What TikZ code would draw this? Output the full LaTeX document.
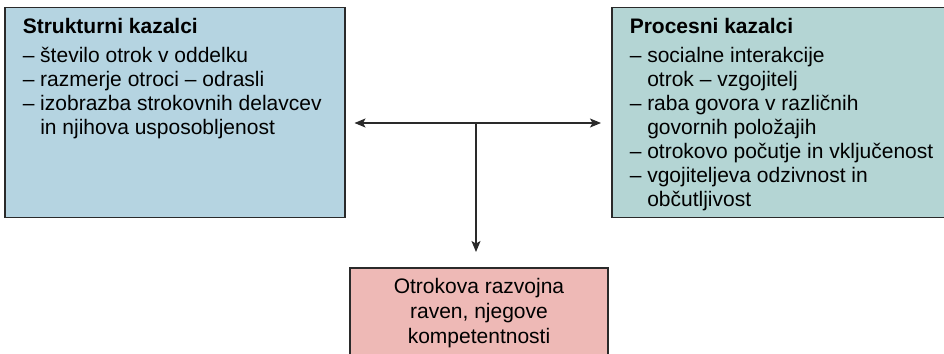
\documentclass[tikz,border=0pt]{standalone}
\usepackage{fontspec}
\setmainfont{Liberation Sans}
\usetikzlibrary{arrows.meta}

\definecolor{strukblue}{HTML}{B5D4E1}
\definecolor{procteal}{HTML}{B4D5D4}
\definecolor{razvojred}{HTML}{EEB9B6}
\definecolor{framegray}{HTML}{2A2A2A}

\tikzset{
  kazbox/.style={draw=framegray, line width=1.5pt, anchor=north west,
    inner xsep=18pt, inner ysep=11pt, font=\fontsize{21}{24}\selectfont},
  link/.style={draw=framegray, line width=1.2pt},
  >={Stealth[length=11pt, width=9pt, inset=2.5pt]}
}
% top aligned text block of fixed size
\newcommand{\kaztext}[3]{\parbox[c][#2][t]{#1}{\raggedright #3}}

\begin{document}
\begin{tikzpicture}[x=1pt, y=-1pt]
    \clip (0,0) rectangle (944,353);
    % Strukturni kazalci box
    \node[kazbox, fill=strukblue] (struk) at (4,7) {\kaztext{304pt}{187.5pt}{%
      \textbf{Strukturni kazalci}\\[5pt]
      – število otrok v oddelku\\
      – razmerje otroci – odrasli\\
      – izobrazba strokovnih delavcev\\
      \hphantom{– }in njihova usposobljenost}};
    % Procesni kazalci box
    \node[kazbox, fill=procteal] (proces) at (611,7) {\kaztext{320pt}{187.5pt}{%
      \textbf{Procesni kazalci}\\[5pt]
      – socialne interakcije\\
      \hphantom{– }otrok – vzgojitelj\\
      – raba govora v različnih\\
      \hphantom{– }govornih položajih\\
      – otrokovo počutje in vključenost\\
      – vgojiteljeva odzivnost in\\
      \hphantom{– }občutljivost}};
    % Razvojna raven box
    \node[draw=framegray, line width=1.5pt, fill=razvojred, anchor=north,
      minimum width=258pt, minimum height=90pt, align=center,
      font=\fontsize{21}{25}\selectfont] (razvoj) at (479,267)
      {Otrokova razvojna\\raven, njegove\\kompetentnosti};
    % Arrows
    \coordinate (junction) at (476,123);
    \draw[link, <->, shorten <=9pt, shorten >=10pt]
      (struk.east |- junction) -- (proces.west |- junction);
    \draw[link, ->, shorten >=15pt] (junction) -- (razvoj.north -| junction);
\end{tikzpicture}
\end{document}
